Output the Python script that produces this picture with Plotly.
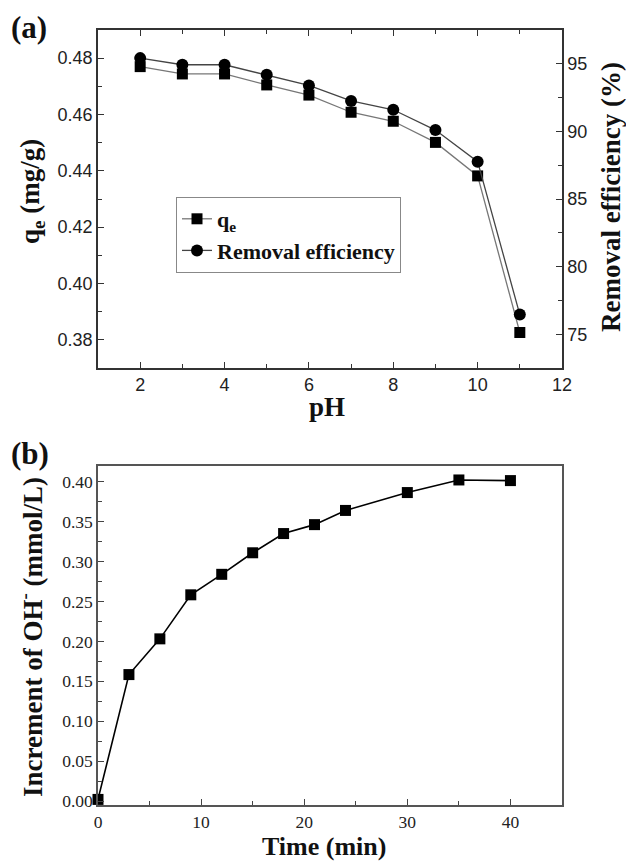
import plotly.graph_objects as go

# ---- Data: panel (a) ----
ph = [2, 3, 4, 5, 6, 7, 8, 9, 10, 11]
qe = [0.4770, 0.4744, 0.4744, 0.4705, 0.4669, 0.4608, 0.4576, 0.4501, 0.4382, 0.3826]
removal = [95.42, 94.93, 94.93, 94.19, 93.40, 92.25, 91.60, 90.10, 87.76, 76.45]

# ---- Data: panel (b) ----
time_min = [0, 3, 6, 9, 12, 15, 18, 21, 24, 30, 35, 40]
oh_inc = [0.002, 0.1585, 0.2033, 0.2585, 0.2842, 0.3112, 0.3353, 0.3465, 0.3643, 0.3867, 0.4025, 0.4017]

SERIF = "Liberation Serif, Times New Roman, serif"
SANS = "Liberation Sans, Arial, sans-serif"

W, H = 626, 861
L, R, T, B = 98, 64, 30, 56
PW, PH = W - L - R, H - T - B


def px(x):
    return (x - L) / PW


def py(y):
    return (H - B - y) / PH


fig = go.Figure()

fig.add_trace(go.Scatter(
    x=ph, y=qe, name="<b>q<sub>e</sub></b>", mode="lines+markers",
    line=dict(color="#777777", width=1.3),
    marker=dict(symbol="square", size=11, color="black"),
    xaxis="x", yaxis="y", cliponaxis=False))
fig.add_trace(go.Scatter(
    x=ph, y=removal, name="<b>Removal efficiency</b>", mode="lines+markers",
    line=dict(color="#444444", width=1.3),
    marker=dict(symbol="circle", size=12, color="black"),
    xaxis="x", yaxis="y2", cliponaxis=False))
fig.add_trace(go.Scatter(
    x=time_min, y=oh_inc, mode="lines+markers", showlegend=False,
    line=dict(color="black", width=1.6),
    marker=dict(symbol="square", size=11, color="black"),
    xaxis="x2", yaxis="y3", cliponaxis=False))

tick_a = dict(family=SANS, size=18, color="#222")
tick_b = dict(family=SERIF, size=17.5, color="#222")

ya_top, ya_bot = 1.0, py(368)
yb_top = py(466)

common = dict(showgrid=False, zeroline=False, tickwidth=1.2, ticklen=6)

fig.update_layout(
    width=W, height=H,
    margin=dict(l=L, r=R, t=T, b=B),
    paper_bgcolor="white", plot_bgcolor="white",
    showlegend=True,
    legend=dict(x=px(176), y=py(197), xanchor="left", yanchor="top",
                bordercolor="#888", borderwidth=1, bgcolor="white",
                font=dict(family=SERIF, size=22, color="#111"),
                tracegroupgap=0, itemwidth=30),
    xaxis=dict(domain=[0, 1], anchor="y", range=[1, 12], dtick=2,
               ticks="inside", tickcolor="#333",
               minor=dict(dtick=1, ticks="inside", ticklen=4, tickcolor="#333"),
               showline=True, linecolor="#333", linewidth=1.5, mirror="ticks",
               tickfont=tick_a, **common),
    yaxis=dict(domain=[ya_bot, ya_top], anchor="x", range=[0.37, 0.49], dtick=0.02,
               tickformat=".2f", ticks="inside", tickcolor="#333",
               minor=dict(dtick=0.01, ticks="inside", ticklen=4, tickcolor="#333"),
               showline=True, linecolor="#333", linewidth=1.5,
               tickfont=tick_a, **common),
    yaxis2=dict(domain=[ya_bot, ya_top], anchor="x", overlaying="y", side="right",
                range=[72.5, 97.5], dtick=5, ticks="inside", tickcolor="#333",
                minor=dict(dtick=2.5, ticks="inside", ticklen=4, tickcolor="#333"),
                showline=True, linecolor="#333", linewidth=1.5,
                tickfont=tick_a, **common),
    xaxis2=dict(domain=[0, 1], anchor="y3", range=[0, 45], dtick=10,
                ticks="inside", tickcolor="#444",
                minor=dict(dtick=5, ticks="inside", ticklen=4, tickcolor="#444"),
                showline=True, linecolor="#555", linewidth=1.5, mirror=True,
                tickfont=tick_b, **common),
    yaxis3=dict(domain=[0, yb_top], anchor="x2", range=[-0.005, 0.42], dtick=0.05,
                tickformat=".2f", ticks="inside", tickcolor="#444",
                minor=dict(dtick=0.025, ticks="inside", ticklen=4, tickcolor="#444"),
                showline=True, linecolor="#555", linewidth=1.5, mirror=True,
                tickfont=tick_b, **common),
)


def label(text, x, y, size=27, angle=0):
    fig.add_annotation(text=text, xref="paper", yref="paper", x=px(x), y=py(y),
                       xanchor="center", yanchor="middle", showarrow=False,
                       textangle=angle, font=dict(family=SERIF, size=size, color="#111"))


label("<b>(a)</b>", 29, 28, size=31)
label("<b>(b)</b>", 30, 453, size=31)
label("<b>pH</b>", 327, 407)
label("<b>q<sub>e</sub> (mg/g)</b>", 32, 192, angle=-90)
label("<b>Removal efficiency (%)</b>", 611, 197, angle=-90)
label("<b>Time (min)</b>", 324, 846, size=26)
label("<b>Increment of OH<sup>-</sup> (mmol/L)</b>", 31, 637, angle=-90)

fig.write_html(
    "out.html",
    config={"displayModeBar": False},
    post_script="document.body.style.margin='0';document.body.style.padding='0';"
                "document.body.style.overflow='hidden';",
)
